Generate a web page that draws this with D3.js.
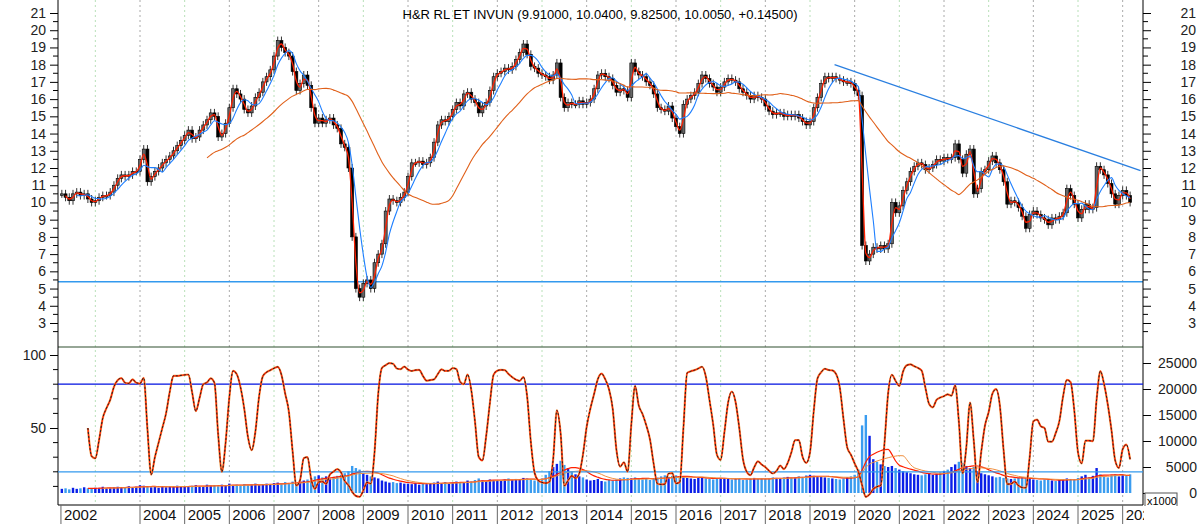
<!DOCTYPE html>
<html><head><meta charset="utf-8">
<script src="https://cdn.jsdelivr.net/npm/d3@7"></script>
<style>body{margin:0;background:#fff}svg{font-family:"Liberation Sans",Arial,sans-serif}</style>
</head><body><svg id="c" width="1200" height="524"></svg>
<script>
// monthly closes, Apr 2002 .. Mar 2026
var closes = [
 10.5,10.3,10.1,10.5,10.6,10.4,10.5,10.2,10.0,
 10.1,10.3,10.4,10.4,10.6,11.0,11.4,11.6,11.5,11.6,11.8,11.8,
 12.5,13.1,11.2,11.5,11.8,12.0,12.3,12.5,12.7,13.0,13.3,13.6,
 13.9,14.2,13.7,13.8,14.2,14.5,14.8,15.2,15.0,13.8,14.0,14.6,
 15.5,16.6,16.3,16.0,15.4,15.2,15.6,16.1,16.4,17.0,17.3,17.7,
 18.5,19.4,19.0,18.7,18.5,17.6,16.5,16.9,17.4,16.8,15.5,14.6,
 14.9,14.6,14.8,14.9,14.5,14.3,13.4,13.2,12.0,8.0,5.0,4.5,
 5.3,5.5,5.0,6.5,7.0,7.6,9.5,10.2,10.1,10.0,10.3,10.6,
 11.5,12.3,12.3,12.4,12.2,12.3,12.6,13.5,14.5,14.8,14.7,15.0,
 15.4,15.8,15.6,16.3,16.4,16.0,15.8,15.2,15.6,15.8,16.5,17.3,
 17.5,17.6,17.8,17.7,17.9,18.3,18.7,19.2,18.6,17.9,17.8,17.5,
 17.4,17.3,17.1,17.4,18.1,16.1,15.5,15.8,15.7,15.7,15.9,15.7,
 15.8,16.0,16.6,17.4,17.5,17.3,17.2,16.8,16.4,16.6,16.5,16.1,
 18.1,17.6,17.4,17.3,17.0,16.8,16.3,15.5,15.4,15.3,15.6,14.9,
 14.4,14.0,15.7,16.0,16.2,16.4,16.9,17.4,17.2,16.9,16.7,16.4,
 16.7,17.0,17.2,17.1,17.0,16.6,16.4,16.2,16.0,16.2,16.1,16.0,
 15.6,15.3,15.1,15.2,15.2,15.0,15.1,15.0,15.1,14.9,14.7,14.5,
 14.7,15.5,16.1,16.9,17.3,17.2,17.3,17.2,17.1,17.0,17.0,16.9,
 16.5,16.2,7.5,6.6,7.0,7.4,7.3,7.5,7.3,7.6,10.0,9.4,
 9.8,10.7,11.2,11.8,12.1,12.3,12.2,11.9,12.0,12.2,12.5,12.4,
 12.6,12.5,12.6,13.4,12.5,11.7,12.8,13.1,10.5,10.8,11.8,11.9,
 12.4,12.7,12.3,11.9,11.2,9.9,10.1,10.0,9.7,9.2,8.5,9.3,
 9.5,9.3,9.1,9.0,8.7,9.1,9.0,9.2,9.4,10.8,10.4,9.9,
 9.1,9.6,9.9,9.6,9.7,12.1,11.9,11.6,11.1,10.5,9.9,10.4,
 10.7,10.4,10.0
];
// monthly volume (x1000)
var volumes = [
 800,900,700,1000,800,900,1100,900,800,
 1000,900,1200,900,1000,1100,1200,1000,1100,1300,1100,1200,
 1500,1400,1300,1100,1200,1000,1200,1100,1300,1200,1400,1300,
 1300,1200,1400,1500,1300,1200,1600,1400,1500,1300,1600,1400,
 1800,1500,1600,1400,1700,1500,1600,1800,1500,1700,1800,1600,
 1900,2000,1800,2100,1900,2200,2000,2300,2400,2600,2800,3200,
 3400,3000,3200,2800,3100,3300,3500,3800,4200,5200,4800,4500,
 3800,3500,3200,3000,2800,2400,2200,2000,2100,1900,2000,1800,
 1800,1700,1900,1600,1800,1700,1900,2000,2200,1900,2100,1800,
 2000,2200,2000,2100,2400,2200,2500,2800,2400,2300,2600,2500,
 2500,2400,2600,2800,2500,2700,2600,2900,2800,2600,2400,2300,
 2800,3500,4200,5000,5600,6200,5400,4800,4200,3600,3200,3000,
 2600,2400,2500,2700,2300,2200,2500,2400,2600,2800,3000,2900,
 2800,3000,2700,2600,2800,2500,2700,3000,3200,3400,3100,3300,
 3400,3200,3000,2900,2800,2700,2900,3000,2800,2700,2600,2800,
 2900,2800,2700,2600,2700,2800,2500,2600,2800,2900,2700,2800,
 2700,2800,3000,2900,2800,3000,3100,2900,3000,3200,3100,3400,
 3500,3300,3200,3100,3000,2900,2800,2700,2600,2800,3000,3200,
 3500,4500,13000,15000,11000,6500,6000,5500,5200,5000,5200,4800,
 4500,4200,4000,3800,3600,3500,3400,3600,3800,3500,3700,4000,
 4200,4500,5000,5500,6000,5800,5200,4800,5000,4200,3800,3600,
 3400,3200,3000,3100,2900,2800,2700,2800,2900,3000,2800,2700,
 2600,2500,2400,2600,2500,2400,2300,2500,2600,2800,2700,2600,
 2900,3200,3500,3000,3300,4800,3600,3200,3000,3400,3600,3200,
 3500,3400,3600
];
var startYear = 2002, startMonth = 3;
var yearLabels = ["2002","2004","2005","2006","2007","2008","2009","2010","2011","2012","2013","2014","2015","2016","2017","2018","2019","2020","2021","2022","2023","2024","2025","2026"];
var gridYears = d3.range(2003, 2027);
var priceTicks = d3.range(3, 22);
var supportLevel = [5.4];
var trendLine = [{t: 2019.55, v: 18.0}, {t: 2026.4, v: 11.85}];
var stochLevels = [80, 20];
var volTicks = [0, 5000, 10000, 15000, 20000, 25000];
var title = "H&R RL ET INVUN (9.91000, 10.0400, 9.82500, 10.0050, +0.14500)";

var svg = d3.select("#c");
var L = 58, R = 1143;
var x = d3.scaleLinear().domain([2004, 2025]).range([140, 1078]);
var y = d3.scaleLinear().domain([3, 21]).range([323, 13]);
var ys = d3.scaleLinear().domain([0, 100]).range([501, 355]);
var yv = d3.scaleLinear().domain([0, 25000]).range([493, 363]);

var data = closes.map(function (c, i) {
    var t = startYear + (startMonth + i) / 12;
    var o = i ? closes[i - 1] : c;
    return {t: t, o: o, c: c, v: volumes[i]};
});

function sma(arr, n) {
    return arr.map(function (d, i) {
        if (i < n - 1 || arr[i - n + 1] == null) return null;
        return d3.mean(arr.slice(i - n + 1, i + 1));
    });
}

// grid
svg.append("g").selectAll("line").data(gridYears).join("line")
    .attr("x1", function (d) { return x(d); }).attr("x2", function (d) { return x(d); })
    .attr("y1", 0).attr("y2", 505)
    .attr("stroke", function (d, i) { return i % 2 ? "#aaa" : "#b8e0b8"; })
    .attr("stroke-dasharray", "2,3");

// title
svg.append("text").attr("x", 600).attr("y", 19).attr("text-anchor", "middle")
    .attr("font-size", 13).text(title);

// price axes
var yl = d3.axisLeft(y).tickValues(priceTicks).tickSize(8).tickFormat(d3.format("d"));
var yr = d3.axisRight(y).tickValues(priceTicks).tickSize(8).tickFormat(d3.format("d"));
var ga = svg.append("g").attr("transform", "translate(" + L + ",0)").call(yl);
var gb = svg.append("g").attr("transform", "translate(" + R + ",0)").call(yr);
[ga, gb].forEach(function (g) {
    g.selectAll("text").attr("font-size", 14).attr("fill", "#222");
    g.select(".domain").attr("d", null);
});
ga.selectAll("text").attr("x", -12);
gb.selectAll("text").attr("x", 53).attr("text-anchor", "end");
var minor = d3.range(2.5, 21.5, 0.5).filter(function (d) { return d % 1; });
svg.append("g").selectAll("line").data(minor).join("line")
    .attr("x1", L - 5).attr("x2", L).attr("y1", function (d) { return y(d); }).attr("y2", function (d) { return y(d); })
    .attr("stroke", "#000");
svg.append("g").selectAll("line").data(minor).join("line")
    .attr("x1", R).attr("x2", R + 5).attr("y1", function (d) { return y(d); }).attr("y2", function (d) { return y(d); })
    .attr("stroke", "#000");

// support & trend
svg.selectAll(".sup").data(supportLevel).join("line").attr("class", "sup")
    .attr("x1", L).attr("x2", R).attr("y1", function (d) { return y(d); }).attr("y2", function (d) { return y(d); })
    .attr("stroke", "#3399ee").attr("stroke-width", 1.5);
svg.append("line").attr("x1", x(trendLine[0].t)).attr("y1", y(trendLine[0].v))
    .attr("x2", x(trendLine[1].t)).attr("y2", y(trendLine[1].v))
    .attr("stroke", "#2a7fe0").attr("stroke-width", 1.3);

// candles
var cw = 3;
var cg = svg.append("g");
cg.selectAll("line").data(data).join("line")
    .attr("x1", function (d) { return x(d.t); }).attr("x2", function (d) { return x(d.t); })
    .attr("y1", function (d) { return y(Math.max(d.o, d.c)) - 4; })
    .attr("y2", function (d) { return y(Math.min(d.o, d.c)) + 4; })
    .attr("stroke", "#333");
cg.selectAll("rect").data(data).join("rect")
    .attr("x", function (d) { return x(d.t) - cw / 2; }).attr("width", cw)
    .attr("y", function (d) { return y(Math.max(d.o, d.c)); })
    .attr("height", function (d) { return Math.max(1.5, Math.abs(y(d.o) - y(d.c))); })
    .attr("fill", function (d) { return d.c >= d.o ? "#666" : "#000"; })
    .attr("stroke", "#000").attr("stroke-width", 0.6);

// moving averages
function maLine(vals, sc, color, w, dash, from) {
    var pts = data.map(function (d, i) { return {t: d.t, v: vals[i]}; })
        .filter(function (p) { return p.v != null && p.t >= (from || 0); });
    svg.append("path").datum(pts)
        .attr("d", d3.line().x(function (p) { return x(p.t); }).y(function (p) { return sc(p.v); }).curve(d3.curveMonotoneX))
        .attr("fill", "none").attr("stroke", color).attr("stroke-width", w)
        .attr("stroke-dasharray", dash || null);
}
maLine(sma(closes, 2), y, "#ff2000", 1.3);
maLine(sma(closes, 5), y, "#1e7fff", 1.1);
maLine(sma(closes, 27), y, "#e0601a", 1.1, null, 2005.5);

// panel separators
svg.append("line").attr("x1", L).attr("x2", R).attr("y1", 347).attr("y2", 347).attr("stroke", "#2f4f2f").attr("stroke-width", 1.2);
svg.append("line").attr("x1", L).attr("x2", L).attr("y1", 0).attr("y2", 505).attr("stroke", "#000");
svg.append("line").attr("x1", R).attr("x2", R).attr("y1", 0).attr("y2", 505).attr("stroke", "#000");
svg.append("line").attr("x1", L).attr("x2", R).attr("y1", 505).attr("y2", 505).attr("stroke", "#000");

// volume
svg.append("g").selectAll("rect").data(data).join("rect")
    .attr("x", function (d) { return x(d.t) - 1.2; }).attr("width", 2.4)
    .attr("y", function (d) { return yv(d.v); })
    .attr("height", function (d) { return yv(0) - yv(d.v); })
    .attr("fill", function (d) { return d.c >= d.o ? "#0a1fe8" : "#3a9cf0"; });
maLine(sma(volumes, 8), yv, "#ff2000", 1.2);
maLine(sma(volumes, 12), yv, "#f09040", 1.0);

// stochastic levels
svg.selectAll(".lvl").data(stochLevels).join("line").attr("class", "lvl")
    .attr("x1", L).attr("x2", R).attr("y1", function (d) { return ys(d); }).attr("y2", function (d) { return ys(d); })
    .attr("stroke", function (d) { return d > 50 ? "#0010e0" : "#3399ee"; }).attr("stroke-width", 1.3);

// stochastic from closes
var k = closes.map(function (c, i) {
    if (i < 6) return null;
    var w = closes.slice(i - 6, i + 1);
    var lo = d3.min(w) - 0.3, hi = d3.max(w) + 0.3;
    return 100 * (c - lo) / (hi - lo);
});
var kS = sma(k, 2);
maLine(kS, ys, "#f0a050", 2.2);
maLine(kS, ys, "#ff1a00", 1.2);
maLine(kS, ys, "#222", 1, "2,2");

// lower axes
var gl = svg.append("g").attr("transform", "translate(" + L + ",0)")
    .call(d3.axisLeft(ys).tickValues([50, 100]).tickSize(8));
gl.selectAll("text").attr("font-size", 14).attr("x", -12).attr("fill", "#222");
gl.select(".domain").attr("d", null);
svg.append("g").selectAll("line").data([10, 20, 30, 40, 60, 70, 80, 90]).join("line")
    .attr("x1", L - 5).attr("x2", L).attr("y1", function (d) { return ys(d); }).attr("y2", function (d) { return ys(d); })
    .attr("stroke", "#000");
var gr = svg.append("g").attr("transform", "translate(" + R + ",0)")
    .call(d3.axisRight(yv).tickValues(volTicks).tickSize(8).tickFormat(d3.format("d")));
gr.selectAll("text").attr("font-size", 14).attr("x", 54).attr("text-anchor", "end").attr("fill", "#222");
gr.select(".domain").attr("d", null);
svg.append("rect").attr("x", 1145).attr("y", 493).attr("width", 32).attr("height", 15).attr("fill", "#fff").attr("stroke", "#555");
svg.append("text").attr("x", 1147).attr("y", 505).attr("font-size", 11).text("x1000");

// year labels
var lbl = yearLabels.map(function (s) { return {s: s, t: s == "2002" ? 2002.23 : +s}; });
var xg = svg.append("g");
xg.selectAll("line").data(lbl).join("line")
    .attr("x1", function (d) { return x(d.t); }).attr("x2", function (d) { return x(d.t); })
    .attr("y1", 505).attr("y2", 524).attr("stroke", "#666");
xg.selectAll("text").data(lbl).join("text")
    .attr("x", function (d) { return x(d.t) + 3; }).attr("y", 520)
    .attr("font-size", 15).attr("fill", "#111")
    .text(function (d) { return d.s; });
svg.append("rect").attr("x", R + 1).attr("y", 506).attr("width", 60).attr("height", 18).attr("fill", "#fff");
</script></body></html>
